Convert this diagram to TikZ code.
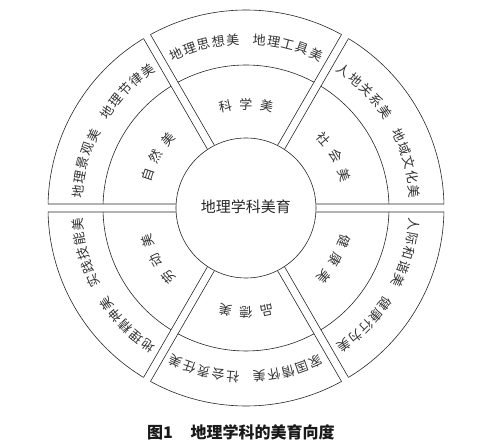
\documentclass[tikz,border=0pt]{standalone}
\usepackage{fontspec}
\newfontfamily\cjk{Noto Sans CJK SC}
\tikzset{
  ringline/.style={line width=0.6pt, draw=black!85},
  otext/.style={font=\cjk\fontsize{13pt}{13pt}\selectfont, text=black!80, inner sep=0pt},
  mtext/.style={font=\cjk\fontsize{13pt}{13pt}\selectfont, text=black!80, inner sep=0pt},
  ctext/.style={font=\cjk\fontsize{15pt}{15pt}\selectfont, text=black!85, inner sep=0pt},
  captext/.style={font=\cjk\bfseries\fontsize{16pt}{16pt}\selectfont, text=black!90, inner sep=0pt, anchor=west}
}
\newcommand\outerring[4]{% #1 name, #2 centre angle, #3 first five, #4 second five
  \foreach \c [count=\i] in {#3}
    \node[otext, rotate={#2+24.5-(\i-1)*5-90}] (o#1a\i) at ({#2+24.5-(\i-1)*5}:169) {\c};
  \foreach \c [count=\i] in {#4}
    \node[otext, rotate={#2-4.5-(\i-1)*5-90}] (o#1b\i) at ({#2-4.5-(\i-1)*5}:169) {\c};
}
\newcommand\middlering[3]{% #1 name, #2 centre angle, #3 three chars
  \foreach \c [count=\i] in {#3}
    \node[mtext, rotate={#2+11.5-(\i-1)*11.5-90}] (m#1\i) at ({#2+11.5-(\i-1)*11.5}:104) {\c};
}
\begin{document}
\begin{tikzpicture}[x=1pt,y=1pt]
\useasboundingbox (-246,-236) rectangle (253,208);
\def\rin{70}\def\rmid{143}\def\rout{198}\def\gp{4}
% inner circle
\draw[ringline] (0,0) circle (\rin);
\node[ctext] (centre) at (0,1) {地理学科美育};
% gap bands and sector arcs
\foreach \p in {0,60,...,300} {
  \draw[ringline] ({\p+asin(\gp/\rin)}:\rin) -- ({\p+asin(\gp/\rout)}:\rout);
  \draw[ringline] ({\p-asin(\gp/\rin)}:\rin) -- ({\p-asin(\gp/\rout)}:\rout);
  \draw[ringline] ({\p+asin(\gp/\rmid)}:\rmid)
    arc[start angle={\p+asin(\gp/\rmid)}, end angle={\p+60-asin(\gp/\rmid)}, radius=\rmid];
  \draw[ringline] ({\p+asin(\gp/\rout)}:\rout)
    arc[start angle={\p+asin(\gp/\rout)}, end angle={\p+60-asin(\gp/\rout)}, radius=\rout];
}
% middle ring labels
\middlering{top}{90}{科,学,美}
\middlering{ur}{30}{社,会,美}
\middlering{lr}{-30}{健,康,美}
\middlering{bot}{-90}{品,德,美}
\middlering{ll}{210}{劳,动,美}
\middlering{ul}{150}{自,然,美}
% outer ring labels
\outerring{top}{90}{地,理,思,想,美}{地,理,工,具,美}
\outerring{ur}{30}{人,地,关,系,美}{地,域,文,化,美}
\outerring{lr}{-30}{人,际,和,谐,美}{健,康,行,为,美}
\outerring{bot}{-90}{家,国,情,怀,美}{社,会,责,任,美}
\outerring{ll}{210}{地,理,精,神,美}{实,践,技,能,美}
\outerring{ul}{150}{地,理,景,观,美}{地,理,节,律,美}
% caption
\node[captext] (caption) at (-99,-224) {图1\hspace{1.1em}地理学科的美育向度};
\end{tikzpicture}
\end{document}
